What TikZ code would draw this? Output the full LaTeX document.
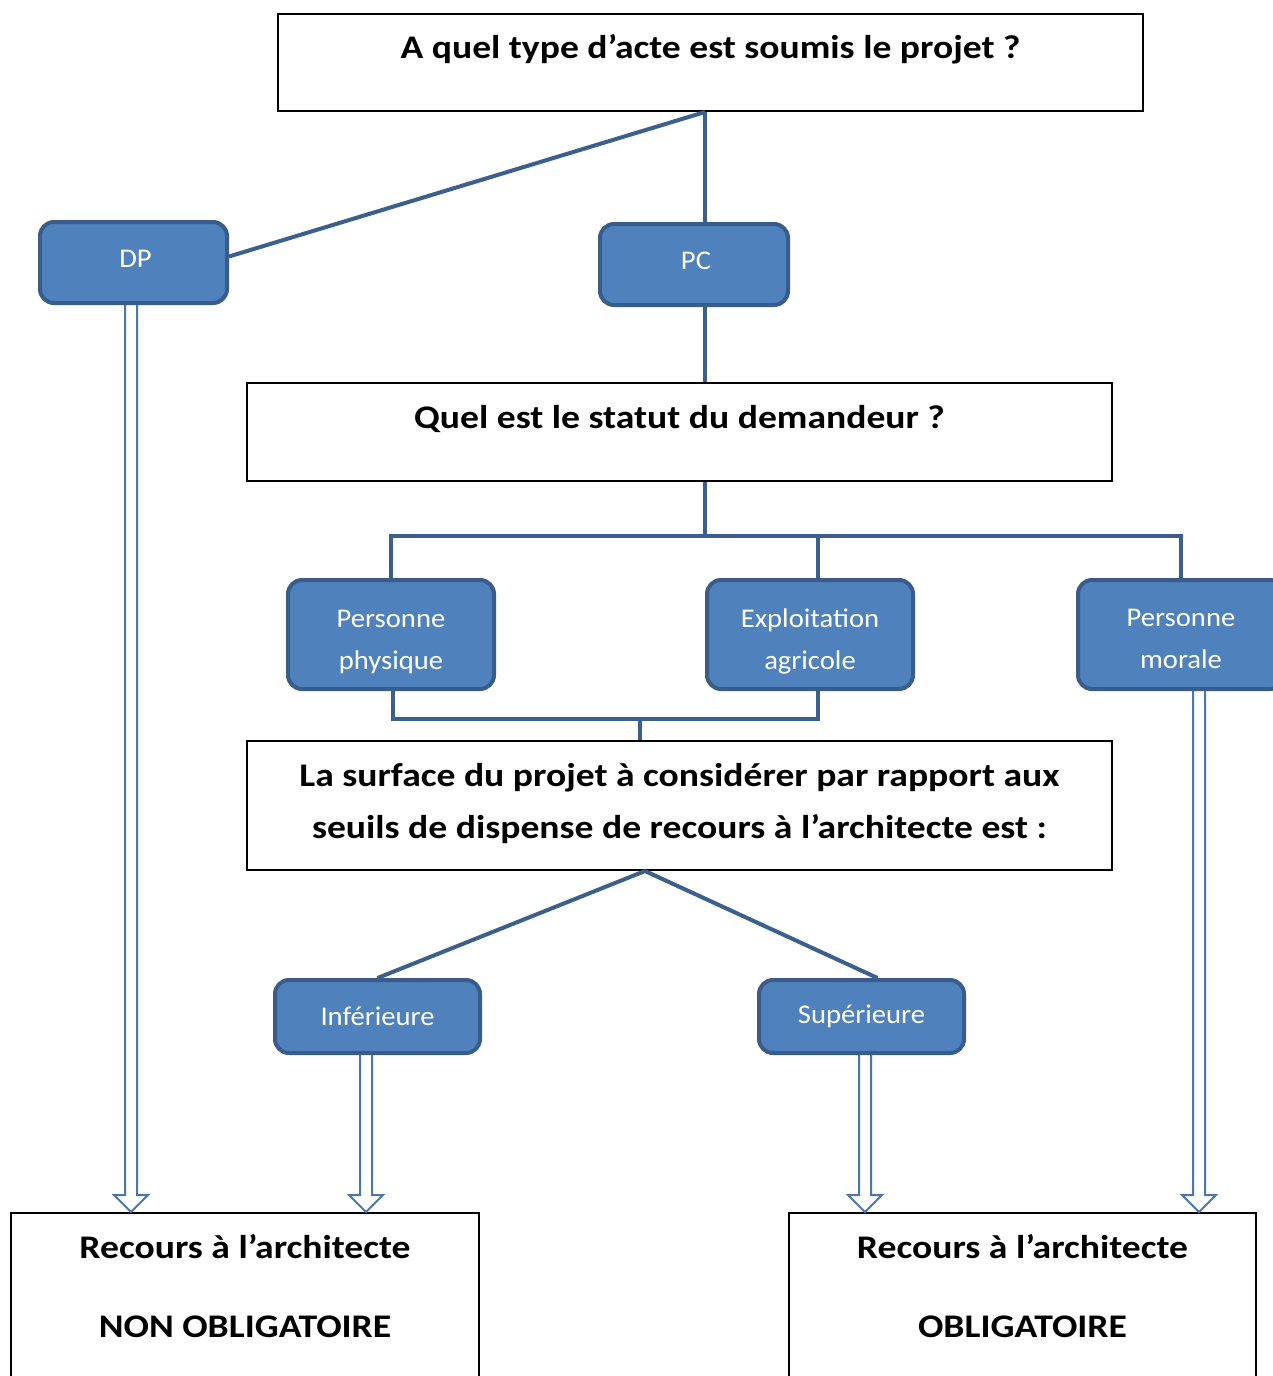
\documentclass[tikz,border=0pt]{standalone}
\usepackage{fontspec}
\setmainfont{Carlito}
\newfontfamily\qfont{Carlito}[FakeStretch=1.14]
\newfontfamily\bfont{Carlito}[FakeStretch=1.06]
\usetikzlibrary{calc}
\definecolor{boxfill}{HTML}{4F81BD}
\definecolor{boxedge}{HTML}{385D8A}
\definecolor{connc}{HTML}{3B5F8E}
\definecolor{arrc}{HTML}{4A77B0}
\newcommand\dblarrow[3]{%
  \draw[dblline] let \p1=($(#1.south)+(#3,0)$), \p2=(#2.north) in
    (\x1-6,\y1) -- (\x1-6,\y2+17) -- (\x1-17,\y2+17) -- (\x1,\y2)
    -- (\x1+17,\y2+17) -- (\x1+6,\y2+17) -- (\x1+6,\y1);}
\newcommand\uplift{\rule[-8pt]{0pt}{0pt}}
\newcommand\downshift[1]{\rule{0pt}{#1pt}}
\begin{document}
\begin{tikzpicture}[x=1pt,y=-1pt,
  qbox/.style={draw=black, line width=2pt, fill=white, inner sep=0pt},
  bluebox/.style={draw=boxedge, fill=boxfill, line width=4pt, rounded corners=14pt,
    text=white, font=\bfont\fontsize{27}{42}\selectfont, align=center, inner sep=0pt},
  qtext/.style={font=\qfont\bfseries\fontsize{33}{38}\selectfont, anchor=base, inner sep=0pt},
  connline/.style={draw=connc, line width=4pt},
  dblline/.style={draw=arrc, line width=2pt, line join=miter}]
\fill[white] (0,0) rectangle (1272,1376);
\useasboundingbox (0,0) rectangle (1272,1376);

% question boxes
\node[qbox, minimum width=865pt, minimum height=97pt] (q1) at (710.5,62.5) {};
\node[qbox, minimum width=865pt, minimum height=98pt] (q2) at (679.5,432) {};
\node[qbox, minimum width=865pt, minimum height=129pt] (q3) at (679.5,805.5) {};
\node[qbox, minimum width=468pt, minimum height=187pt] (nob) at (245,1306.5) {};
\node[qbox, minimum width=467pt, minimum height=187pt] (ob) at (1022.5,1306.5) {};

% helper coordinates
\coordinate (j1) at ($(q1.south)+(-5.5,0)$);
\coordinate (j2) at (705,536);
\coordinate (eaT) at (818,580);
\coordinate (ppB) at (393,689);
\coordinate (eaB) at (818,689);
\coordinate (j3) at (393,719);
\coordinate (q3t) at ($(q3.north)+(-39.5,0)$);
\coordinate (q3b) at ($(q3.south)+(-34.5,0)$);

% blue boxes
\node[bluebox, minimum width=187pt, minimum height=81pt] (dp) at (133.5,262.5) {\hspace*{4pt}DP\uplift};
\node[bluebox, minimum width=188pt, minimum height=81pt] (pc) at (694,264.5) {\hspace*{4pt}PC\uplift};
\node[bluebox, minimum width=206pt, minimum height=109pt] (pp) at (391,634.5) {\downshift{32}Personne\\physique};
\node[bluebox, minimum width=206pt, minimum height=109pt] (ea) at (810,634.5) {\downshift{32}Exploitation\\agricole};
\node[bluebox, minimum width=206pt, minimum height=109pt] (pm) at (1181,634.5) {\downshift{26}Personne\\morale};
\node[bluebox, minimum width=205pt, minimum height=73pt] (inf) at (377.5,1016.5) {Inférieure};
\node[bluebox, minimum width=205pt, minimum height=73pt] (sup) at (861.5,1016.5) {Supérieure};

% connectors
\draw[connline] (j1) -- ($(dp.east)+(0,-6)$);
\draw[connline] (j1) -- (j1 |- pc.north);
\draw[connline] (j1 |- pc.south) -- (j1 |- q2.north);
\draw[connline] (j1 |- q2.south) -- (j2);
\draw[connline] (pp.north) -- (pp.north |- j2) -- (pm.north |- j2) -- (pm.north);
\draw[connline] (eaT |- j2) -- (eaT |- ea.north);
\draw[connline] (ppB |- pp.south) -- (j3) -- (eaB |- j3) -- (eaB |- ea.south);
\draw[connline] (q3t |- j3) -- (q3t);
\draw[connline] (q3b) -- (inf.north);
\draw[connline] (q3b) -- ($(sup.north)+(16,0)$);

% double arrows
\dblarrow{dp}{nob}{-2.5}
\dblarrow{inf}{nob}{-11.5}
\dblarrow{sup}{ob}{3.5}
\dblarrow{pm}{ob}{18}

% texts
\node[qtext] (t1) at ($(q1.north)+(0,45)$) {A quel type d’acte est soumis le projet ?};
\node[qtext] (t2) at ($(q2.north)+(0,46)$) {Quel est le statut du demandeur ?};
\node[qtext] (t3a) at ($(q3.north)+(0,46)$) {La surface du projet à considérer par rapport aux};
\node[qtext] (t3b) at ($(q3.north)+(0,98)$) {seuils de dispense de recours à l’architecte est :};
\node[qtext] (t4a) at ($(nob.north)+(0,46)$) {Recours à l’architecte};
\node[qtext] (t4b) at ($(nob.north)+(0,125)$) {NON OBLIGATOIRE};
\node[qtext] (t5a) at ($(ob.north)+(0,46)$) {Recours à l’architecte};
\node[qtext] (t5b) at ($(ob.north)+(0,125)$) {OBLIGATOIRE};
\end{tikzpicture}
\end{document}
